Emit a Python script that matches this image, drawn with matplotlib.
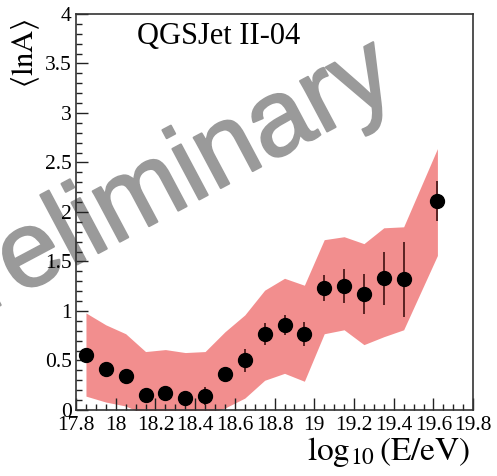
import matplotlib
matplotlib.use("Agg")
import matplotlib.pyplot as plt
import matplotlib.patheffects as pe
from matplotlib.ticker import MultipleLocator, FormatStrFormatter

plt.rcParams["font.family"] = ["Liberation Serif", "DejaVu Serif"]
plt.rcParams["mathtext.fontset"] = "stix"

# mean log mass per energy bin
log_e = [17.85, 17.95, 18.05, 18.15, 18.25, 18.35, 18.45, 18.55, 18.65,
         18.75, 18.85, 18.95, 19.05, 19.15, 19.25, 19.35, 19.45, 19.62]
ln_a = [0.56, 0.41, 0.34, 0.15, 0.17, 0.12, 0.14, 0.36, 0.50,
        0.77, 0.86, 0.77, 1.23, 1.25, 1.17, 1.33, 1.32, 2.11]
stat_err = [0.03, 0.03, 0.03, 0.05, 0.05, 0.06, 0.09, 0.075, 0.12,
            0.11, 0.10, 0.12, 0.13, 0.17, 0.20, 0.27, 0.38, 0.20]
# systematic band edges
sys_low = [0.14, 0.08, 0.04, -0.05, -0.04, -0.06, -0.05, 0.02, 0.12,
           0.30, 0.37, 0.29, 0.77, 0.81, 0.66, 0.74, 0.81, 1.56]
sys_high = [0.98, 0.86, 0.77, 0.59, 0.61, 0.58, 0.59, 0.79, 0.96,
            1.21, 1.33, 1.26, 1.72, 1.75, 1.68, 1.84, 1.85, 2.64]

fig = plt.figure(figsize=(4.97, 4.76), dpi=100)
ax = fig.add_axes([0.153, 0.1387, 0.799, 0.832])

ax.fill_between(log_e, sys_low, sys_high, color="#f28e8e", lw=0, zorder=1)
ax.errorbar(log_e, ln_a, yerr=stat_err, fmt="o", color="black", ms=10,
            ecolor="#4d1a1a", elinewidth=1.3, capsize=0, zorder=3)

ax.set_xlim(17.8, 19.8)
ax.set_ylim(0, 4)
ax.xaxis.set_major_locator(MultipleLocator(0.2))
ax.xaxis.set_minor_locator(MultipleLocator(0.05))
ax.yaxis.set_major_locator(MultipleLocator(0.5))
ax.yaxis.set_minor_locator(MultipleLocator(0.1))
ax.xaxis.set_major_formatter(FormatStrFormatter("%g"))
ax.yaxis.set_major_formatter(FormatStrFormatter("%g"))
ax.tick_params(which="both", direction="in", top=False, right=False,
               labelsize=15.5, width=1, color="#222222")
ax.tick_params(which="major", length=8.6)
ax.tick_params(axis="x", which="major", pad=4)
ax.tick_params(axis="y", which="major", pad=3)
ax.tick_params(which="minor", length=4.3)
for s in ax.spines.values():
    s.set_linewidth(1.2)
    s.set_color("#333333")

ax.set_xlabel(r"$\log_{10}(\mathrm{E/eV})$", fontsize=24, loc="right")
ax.xaxis.set_label_coords(0.992, -0.063)
ax.xaxis.label.set_va("top")
ax.set_ylabel(r"$\langle \mathrm{lnA} \rangle$", fontsize=22, loc="top")
ax.yaxis.set_label_coords(-0.085, 0.99)

ax.text(0.154, 0.942, "QGSJet II-04", transform=ax.transAxes,
        fontsize=22, va="center", ha="left")

# watermark across the plot, partly running off the left edge
ax.text(148 / 497, 1 - 195 / 476, "Preliminary", transform=fig.transFigure,
        fontsize=78, family="Liberation Sans", color="#9a9a9a",
        rotation=28, rotation_mode="anchor", ha="center", va="center",
        zorder=0.5, clip_on=False,
        path_effects=[pe.withStroke(linewidth=1.5, foreground="#9a9a9a")])

fig.savefig("out.png", dpi=100)
